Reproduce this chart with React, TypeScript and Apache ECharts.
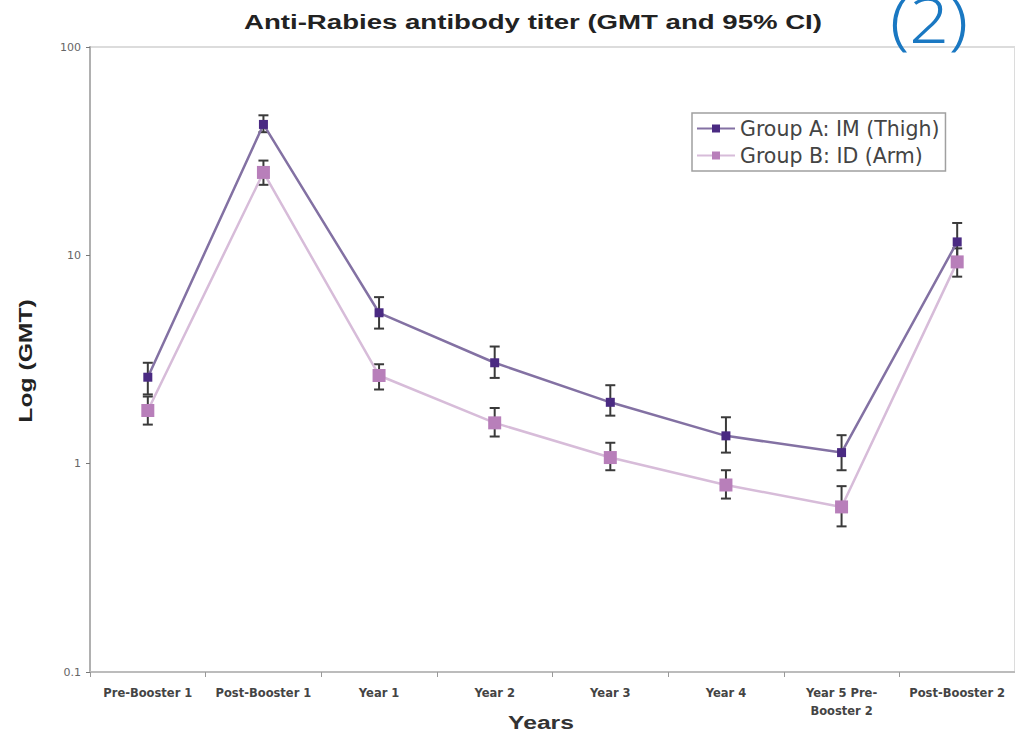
import React, { useEffect, useRef } from "react";
import * as echarts from "echarts";

const categories = [
  "Pre-Booster 1",
  "Post-Booster 1",
  "Year 1",
  "Year 2",
  "Year 3",
  "Year 4",
  "Year 5 Pre-\nBooster 2",
  "Post-Booster 2",
];
const groupA = [2.6, 42.5, 5.3, 3.05, 1.97, 1.36, 1.13, 11.6];
const groupAHigh = [3.05, 47, 6.3, 3.65, 2.38, 1.67, 1.37, 14.3];
const groupALow = [2.15, 39, 4.45, 2.58, 1.7, 1.13, 0.93, 9.6];
const groupB = [1.8, 25, 2.65, 1.57, 1.07, 0.79, 0.62, 9.3];
const groupBHigh = [2.1, 28.5, 3.0, 1.85, 1.26, 0.93, 0.78, 10.8];
const groupBLow = [1.54, 21.8, 2.27, 1.35, 0.93, 0.68, 0.5, 7.9];
const yTickLabels: Record<string, string> = { "0.1": "0.1", "1": "1", "10": "10", "100": "100" };

const FONT = "Liberation Sans";
const WIDE = "DejaVu Sans";

function errorBarSeries(low: number[], high: number[]) {
  return {
    type: "custom",
    z: 1,
    silent: true,
    encode: { x: 0, y: [1, 2] },
    data: low.map((l, i) => [i, l, high[i]]),
    renderItem: (params: any, api: any) => {
      const i = api.value(0);
      const lo = api.coord([i, api.value(1)]);
      const hi = api.coord([i, api.value(2)]);
      const cap = 5;
      const style = { stroke: "#3a3a3a", lineWidth: 2 };
      return {
        type: "group",
        children: [
          { type: "line", shape: { x1: lo[0], y1: lo[1], x2: hi[0], y2: hi[1] }, style },
          { type: "line", shape: { x1: lo[0] - cap, y1: lo[1], x2: lo[0] + cap, y2: lo[1] }, style },
          { type: "line", shape: { x1: hi[0] - cap, y1: hi[1], x2: hi[0] + cap, y2: hi[1] }, style },
        ],
      };
    },
  };
}

export default function App() {
  const ref = useRef<HTMLDivElement>(null);
  useEffect(() => {
    if (!ref.current) return;
    const chart = echarts.init(ref.current, undefined, { renderer: "svg" });
    chart.setOption({
      animation: false,
      backgroundColor: "#ffffff",
      textStyle: { fontFamily: FONT },
      grid: {
        left: 90,
        top: 47,
        width: 933,
        height: 625,
        show: true,
        borderColor: "#dcdcdc",
        borderWidth: 2,
      },
      legend: {
        left: 692,
        top: 113,
        orient: "vertical",
        borderColor: "#a0a0a0",
        borderWidth: 1.5,
        borderRadius: 0,
        padding: [5, 6, 5, 4],
        itemGap: 6,
        itemWidth: 38,
        itemHeight: 10,
        textStyle: { fontFamily: WIDE, fontSize: 20.5, color: "#444" },
        data: ["Group A: IM (Thigh)", "Group B: ID (Arm)"],
      },
      xAxis: {
        type: "category",
        data: categories,
        axisLine: { lineStyle: { color: "#bcbcbc", width: 2 } },
        axisTick: { show: true, length: 5, lineStyle: { color: "#999" } },
        axisLabel: {
          interval: 0,
          fontSize: 11.5,
          fontWeight: "bold",
          color: "#444",
          margin: 12,
          lineHeight: 18,
          fontFamily: WIDE,
        },
      },
      yAxis: {
        type: "log",
        logBase: 10,
        min: 0.1,
        max: 100,
        axisLine: { show: true, lineStyle: { color: "#b0b0b0", width: 2 } },
        axisTick: { show: true, length: 4, lineStyle: { color: "#777" } },
        splitLine: { show: false },
        minorTick: { show: false },
        axisLabel: {
          fontSize: 11,
          color: "#666",
          margin: 9,
          fontFamily: WIDE,
          formatter: (v: number) => yTickLabels[String(v)] ?? String(v),
        },
      },
      series: [
        errorBarSeries(groupALow, groupAHigh),
        errorBarSeries(groupBLow, groupBHigh),
        {
          name: "Group A: IM (Thigh)",
          type: "line",
          z: 3,
          data: groupA,
          symbol: "rect",
          symbolSize: 9,
          itemStyle: { color: "#4a2a82" },
          lineStyle: { color: "#8371a3", width: 2.5 },
        },
        {
          name: "Group B: ID (Arm)",
          type: "line",
          z: 2,
          data: groupB,
          symbol: "rect",
          symbolSize: 13,
          itemStyle: { color: "#b87fba" },
          lineStyle: { color: "#d7bcd9", width: 2.5 },
        },
      ],
      graphic: [
        {
          type: "text",
          x: 533,
          y: 22,
          scaleX: 1.38,
          style: {
            text: "Anti-Rabies antibody titer (GMT and 95% CI)",
            font: `bold 20px "${FONT}"`,
            fill: "#222",
            align: "center",
            verticalAlign: "middle",
          },
        },
        {
          type: "text",
          x: 929,
          y: 19,
          scaleX: 1.12,
          style: {
            text: "(2)",
            font: `300 62px "Noto Sans"`,
            fill: "#1a78c2",
            align: "center",
            verticalAlign: "middle",
          },
        },
        {
          type: "text",
          x: 26,
          y: 361,
          rotation: Math.PI / 2,
          scaleX: 1.3,
          style: {
            text: "Log (GMT)",
            font: `bold 19px "${FONT}"`,
            fill: "#222",
            align: "center",
            verticalAlign: "middle",
          },
        },
        {
          type: "text",
          x: 541,
          y: 723,
          scaleX: 1.3,
          style: {
            text: "Years",
            font: `bold 19px "${FONT}"`,
            fill: "#333",
            align: "center",
            verticalAlign: "middle",
          },
        },
      ],
    });
    return () => chart.dispose();
  }, []);
  return (
    <div
      ref={ref}
      style={{ position: "absolute", left: 0, top: 0, width: 1015, height: 736 }}
    />
  );
}
